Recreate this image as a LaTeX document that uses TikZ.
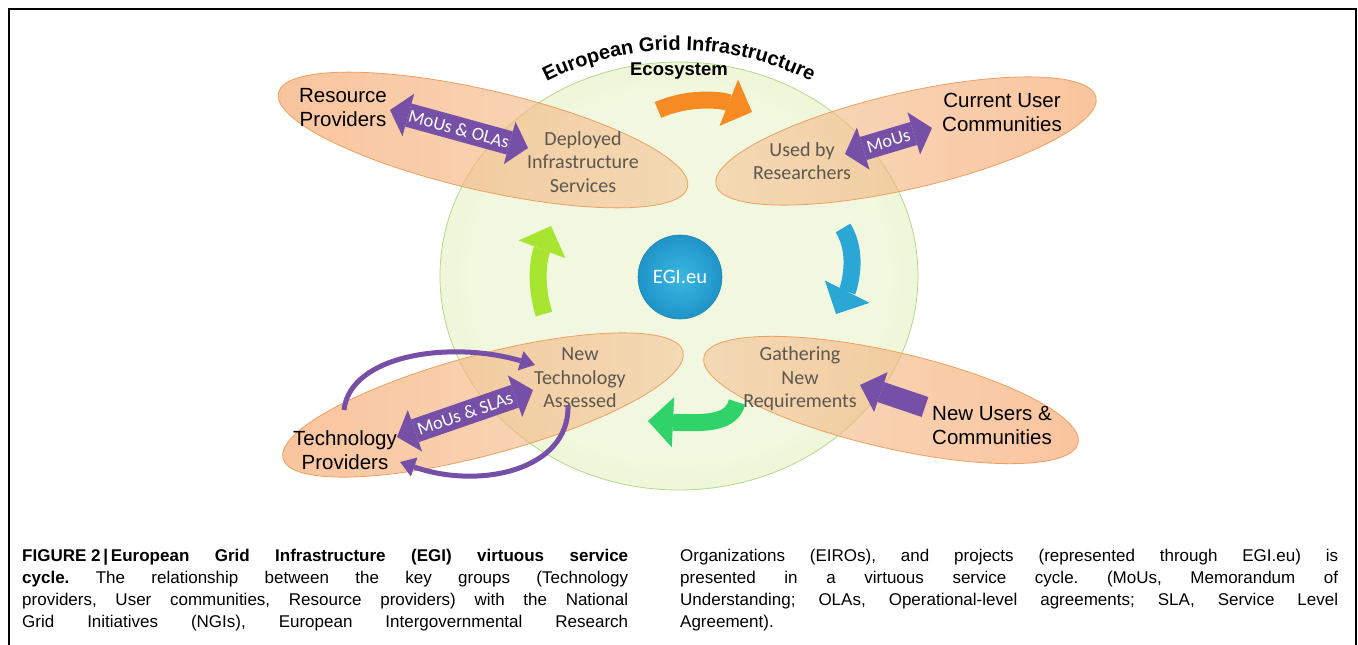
\documentclass[tikz,border=0pt]{standalone}
\usepackage{fontspec}
\setmainfont{Liberation Sans}
\newfontfamily\calibri{Carlito}
\usepackage{tikz}
\usetikzlibrary{shapes.geometric,arrows.meta,decorations.text,positioning}
\definecolor{ecoin}{HTML}{F2F8E0}
\definecolor{ecomid}{HTML}{E3F4C4}
\definecolor{ecoout}{HTML}{C4EC8C}
\definecolor{ecoline}{HTML}{B6D78C}
\definecolor{grpdark}{HTML}{F5A061}
\definecolor{grplight}{HTML}{F4C79B}
\definecolor{grpline}{HTML}{EF9F5E}
\definecolor{stagegray}{HTML}{5C574F}
\definecolor{egiblue}{HTML}{1F94C7}
\definecolor{egilight}{HTML}{3AB8E3}
\definecolor{egiedge}{HTML}{1B86B5}
\definecolor{moupurple}{HTML}{7650A6}
\definecolor{cycorange}{HTML}{F58B22}
\definecolor{cycblue}{HTML}{2AA7D5}
\definecolor{cycgreen}{HTML}{2FD36A}
\definecolor{cyclime}{HTML}{A8E530}
\pgfdeclareradialshading{ecoshade}{\pgfpoint{0bp}{0bp}}{color(0bp)=(ecoin); color(20bp)=(ecoin); color(38bp)=(ecomid); color(50bp)=(ecoout)}
\tolerance=10000
\hbadness=10000
\frenchspacing
\tikzset
{
    groupzone/.style  = {ellipse, draw=grpline, line width=0.8pt, fill opacity=0.62},
    grouptext/.style  = {align=center, font=\fontsize{20.5}{24}\selectfont},
    stagetext/.style  = {align=center, text=stagegray, font=\calibri\fontsize{20}{23.5}\selectfont},
    mouarrow/.style   = {draw=moupurple, line width=24pt, >={Triangle[width=44pt,length=19pt,line width=0pt]}, <->},
    moulabel/.style   = {sloped, text=white, inner sep=0pt, font=\calibri\fontsize{18.5}{18.5}\selectfont},
    cyclearrow/.style = {line width=17pt, >={Triangle[width=50pt,length=25pt,line width=0pt]}, ->},
    swoosh/.style     = {draw=moupurple, line width=5pt, >={Triangle[width=20pt,length=15pt,line width=0pt]}, ->},
    captext/.style    = {anchor=base west, align=justify, inner sep=0pt, font=\fontsize{17}{22}\selectfont}
}

\begin{document}
\begin{tikzpicture}[x=1pt, y=-1pt]
    \useasboundingbox (0,0) rectangle (1358,645);
    \draw[line width=2pt] (9,645) -- (9,9) -- (1356,9) -- (1356,645);

    \node[ellipse, draw=ecoline, line width=0.8pt, shade, shading=ecoshade, minimum width=478pt, minimum height=428pt] (eco) at (679,276) {};

    \node[groupzone, left color=grpdark, right color=grplight, minimum width=420pt, minimum height=100pt, rotate=-13] (resourcezone) at (483,140) {};
    \node[groupzone, left color=grplight, right color=grpdark, minimum width=390pt, minimum height=96pt, rotate=13] (currentzone) at (906,141) {};
    \node[groupzone, left color=grpdark, right color=grplight, minimum width=414pt, minimum height=100pt, rotate=15] (technozone) at (483,405) {};
    \node[groupzone, left color=grplight, right color=grpdark, minimum width=384pt, minimum height=96pt, rotate=-13] (newzone) at (891,400) {};

    \coordinate (arccentre) at (679,343);
    \path[decorate, decoration={text along path, text align=center, text={|\bfseries\fontsize{20}{20}\selectfont|European Grid Infrastructure}}] (532.5,89.3) arc[start angle=-120, end angle=-60, radius=293];
    \node[font=\bfseries\fontsize{18.5}{18.5}\selectfont] (ecosystem) at (679,71) {Ecosystem};

    \coordinate (runtail) at (658,110);
    \coordinate (runhead) at (752,112);
    \coordinate (usetail) at (843,228);
    \coordinate (usehead) at (836,314);
    \coordinate (gathertail) at (737,402);
    \coordinate (gatherhead) at (648,421);
    \coordinate (assesstail) at (544,314);
    \coordinate (assesshead) at (551,226);
    \draw[cyclearrow, draw=cycorange] (runtail) .. controls (690,96) and (722,100) .. (runhead);
    \draw[cyclearrow, draw=cycblue] (usetail) .. controls (860,255) and (848,290) .. (usehead);
    \draw[cyclearrow, draw=cycgreen] (gathertail) .. controls (732,422) and (710,424) .. (gatherhead);
    \draw[cyclearrow, draw=cyclime] (assesstail) .. controls (535,285) and (538,260) .. (assesshead);

    \node[circle, minimum size=84pt, inner color=egilight, outer color=egiblue, draw=egiedge, line width=0.6pt, text=white, font=\calibri\fontsize{20.5}{20.5}\selectfont] (egi) at (680,277) {EGI.eu};

    \node[grouptext] (resource) at (343,108) {Resource\\Providers};
    \node[grouptext] (current) at (1002,112) {Current User\\Communities};
    \node[grouptext] (techprov) at (345,450) {Technology\\Providers};
    \node[grouptext] (newusers) at (992,426) {New Users \&\\Communities};

    \node[stagetext] (deployed) at (583,162) {Deployed\\Infrastructure\\Services};
    \node[stagetext] (usedby) at (802,161) {Used by\\Researchers};
    \node[stagetext] (assessed) at (580,378) {New\\Technology\\Assessed};
    \node[stagetext] (gathering) at (800,379) {Gathering\\New\\Requirements};

    \coordinate (olaleft) at (390,110);
    \coordinate (olaright) at (528,148);
    \coordinate (mouleft) at (845,154);
    \coordinate (mouright) at (932,128);
    \coordinate (slaleft) at (397,437);
    \coordinate (slaright) at (533,390);
    \coordinate (newtail) at (925,407);
    \coordinate (newhead) at (860,385);
    \draw[mouarrow] (olaleft) -- node[moulabel] (olalabel) {MoUs \& OLAs} (olaright);
    \draw[mouarrow] (mouleft) -- node[moulabel] (moulabel) {MoUs} (mouright);
    \draw[mouarrow] (slaleft) -- node[moulabel] (slalabel) {MoUs \& SLAs} (slaright);
    \draw[draw=moupurple, line width=21pt, >={Triangle[width=42pt,length=22pt,line width=0pt]}, ->] (newtail) -- (newhead);

    \coordinate (upstart) at (344,410);
    \coordinate (upend) at (535,365);
    \coordinate (downstart) at (568,405);
    \coordinate (downend) at (400,462);
    \draw[swoosh] (upstart) .. controls (350,355) and (450,340) .. (upend);
    \draw[swoosh] (downstart) .. controls (570,470) and (480,490) .. (downend);

    \node[captext, text width=606pt] (capleft) at (22,561) {{\bfseries FIGURE\kern4.7pt 2\,|\,European Grid Infrastructure (EGI) virtuous service\linebreak cycle.} The relationship between the key groups (Technology\linebreak providers, User communities, Resource providers) with the National\linebreak Grid Initiatives (NGIs), European Intergovernmental Research\parfillskip=0pt\par};
    \node[captext, text width=658pt] (capright) at (680,561) {Organizations (EIROs), and projects (represented through EGI.eu) is\linebreak presented in a virtuous service cycle. (MoUs, Memorandum of\linebreak Understanding; OLAs, Operational-level agreements; SLA, Service Level\linebreak Agreement).};
\end{tikzpicture}
\end{document}
